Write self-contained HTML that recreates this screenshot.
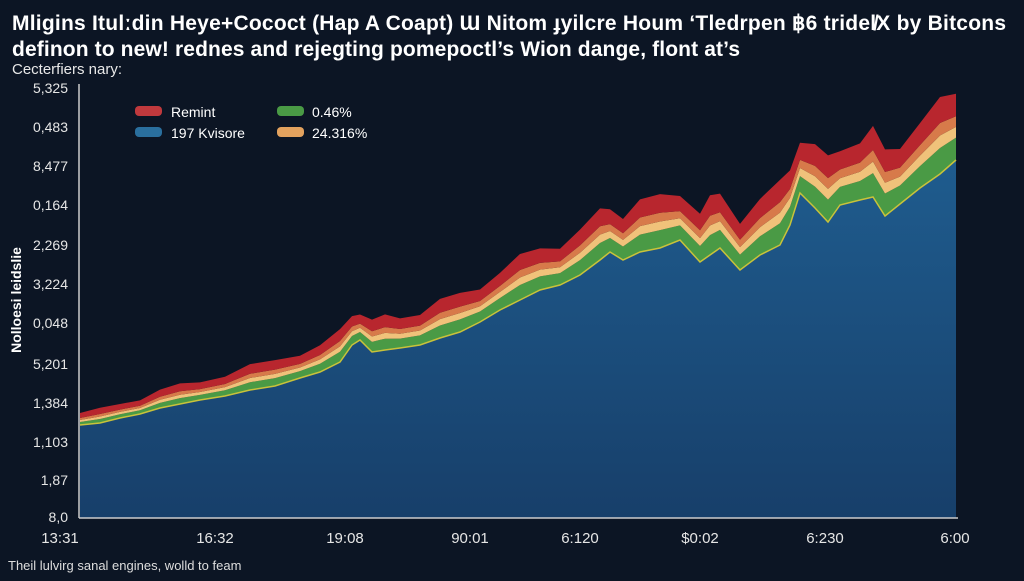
<!DOCTYPE html>
<html><head><meta charset="utf-8"><style>
body{margin:0;background:#0c1524;width:1024px;height:576px;overflow:hidden;font-family:"Liberation Sans",sans-serif;}
</style></head><body>
<svg id="s" width="1024" height="576" xmlns="http://www.w3.org/2000/svg">
<defs><linearGradient id="bg" x1="0" y1="0" x2="0" y2="1"><stop offset="0" stop-color="#1f5c8e"/><stop offset="1" stop-color="#173f6a"/></linearGradient></defs>
<rect width="1024" height="576" fill="#0c1524"/>
<g fill="#fff" font-weight="bold" font-size="21">
<text x="12" y="30" textLength="994" lengthAdjust="spacing">Mligins Itulːdin Heye+Cococt (Hap A Coapt) Ɯ Nitom ɟyilcre Houm ‘Tledrpen ฿6 tridel̸X by Bitcons</text>
<text x="12" y="56" textLength="728" lengthAdjust="spacing">definon to new! rednes and rejegting pomepoctl’s Wion dange, flont at’s</text>
</g>
<text x="12" y="74" fill="#e8e8e8" font-size="15">Cecterfiers nary:</text>
<g id="areas"></g>
<line x1="79" y1="84" x2="79" y2="518" stroke="#ccc" stroke-width="1.5"/>
<line x1="79" y1="518" x2="958" y2="518" stroke="#ccc" stroke-width="1.5"/>
<g fill="#e6e6e6" font-size="14" text-anchor="end">
<text x="68" y="93">5,325</text><text x="68" y="132">0,483</text><text x="68" y="171">8,477</text>
<text x="68" y="210">0,164</text><text x="68" y="250">2,269</text><text x="68" y="289">3,224</text>
<text x="68" y="328">0,048</text><text x="68" y="369">5,201</text><text x="68" y="408">1,384</text>
<text x="68" y="447">1,103</text><text x="68" y="485">1,87</text><text x="68" y="522">8,0</text>
</g>
<text transform="translate(21,300) rotate(-90)" fill="#fff" font-weight="bold" font-size="14" text-anchor="middle">Nolloesi leidslie</text>
<g fill="#e6e6e6" font-size="15" text-anchor="middle">
<text x="60" y="543">13:31</text><text x="215" y="543">16:32</text><text x="345" y="543">19:08</text>
<text x="470" y="543">90:01</text><text x="580" y="543">6:120</text><text x="700" y="543">$0:02</text>
<text x="825" y="543">6:230</text><text x="955" y="543">6:00</text>
</g>
<text x="8" y="570" fill="#ddd" font-size="13">Theil lulvirg sanal engines, wolld to feam</text>
<g font-size="14" fill="#fff">
<rect x="135" y="106" width="27" height="10" rx="4" fill="#c0393d"/><text x="171" y="117">Remint</text>
<rect x="135" y="127" width="27" height="10" rx="4" fill="#2a6f9e"/><text x="171" y="138">197 Kvisore</text>
<rect x="277" y="106" width="27" height="10" rx="4" fill="#4a9a45"/><text x="312" y="117">0.46%</text>
<rect x="277" y="127" width="27" height="10" rx="4" fill="#e3a25e"/><text x="312" y="138">24.316%</text>
</g>
</svg>
<script>
var P=[[80,425],[100,423],[120,418],[140,414],[160,408],[180,404],[200,400],[225,396],[250,390],[275,386],[300,378],[320,372],[340,362],[352,345],[360,340],[372,352],[385,350],[400,348],[420,345],[440,338],[460,332],[480,322],[500,310],[520,300],[540,290],[560,285],[580,275],[600,260],[610,252],[623,260],[640,252],[660,248],[680,240],[700,262],[710,255],[720,248],[740,270],[760,255],[780,245],[790,225],[800,193],[815,208],[828,222],[840,205],[860,200],[873,197],[885,216],[900,204],[920,188],[940,174],[956,160]];
var L=[[3,20,'#4a9a45'],[2,9,'#f0c27a'],[2,9,'#d77a4a'],[5,18,'#b8262e']];
var g=document.getElementById('areas'),ns='http://www.w3.org/2000/svg';
function path(top,bot,c){var d='M'+top.map(p=>p[0]+','+p[1]).join('L');for(var i=bot.length-1;i>=0;i--)d+='L'+bot[i][0]+','+bot[i][1];var e=document.createElementNS(ns,'path');e.setAttribute('d',d+'Z');e.setAttribute('fill',c);g.appendChild(e);}
var layers=[P];var cur=P;
L.forEach(function(l){var n=cur.map(function(p,i){var f=(p[0]-80)/876;var w=(l[0]+f*l[1])*(1+0.15*Math.sin(i*1.7));return[p[0],p[1]-w];});layers.push(n);cur=n;});
path(P,[[956,518],[80,518]].reverse(),'url(#bg)');
for(var i=1;i<layers.length;i++)path(layers[i],layers[i-1],L[i-1][2]);
var pl=document.createElementNS(ns,'polyline');pl.setAttribute('points',P.map(p=>p.join(',')).join(' '));pl.setAttribute('fill','none');pl.setAttribute('stroke','#c9c23a');pl.setAttribute('stroke-width','1.5');g.appendChild(pl);
</script>
</body></html>
